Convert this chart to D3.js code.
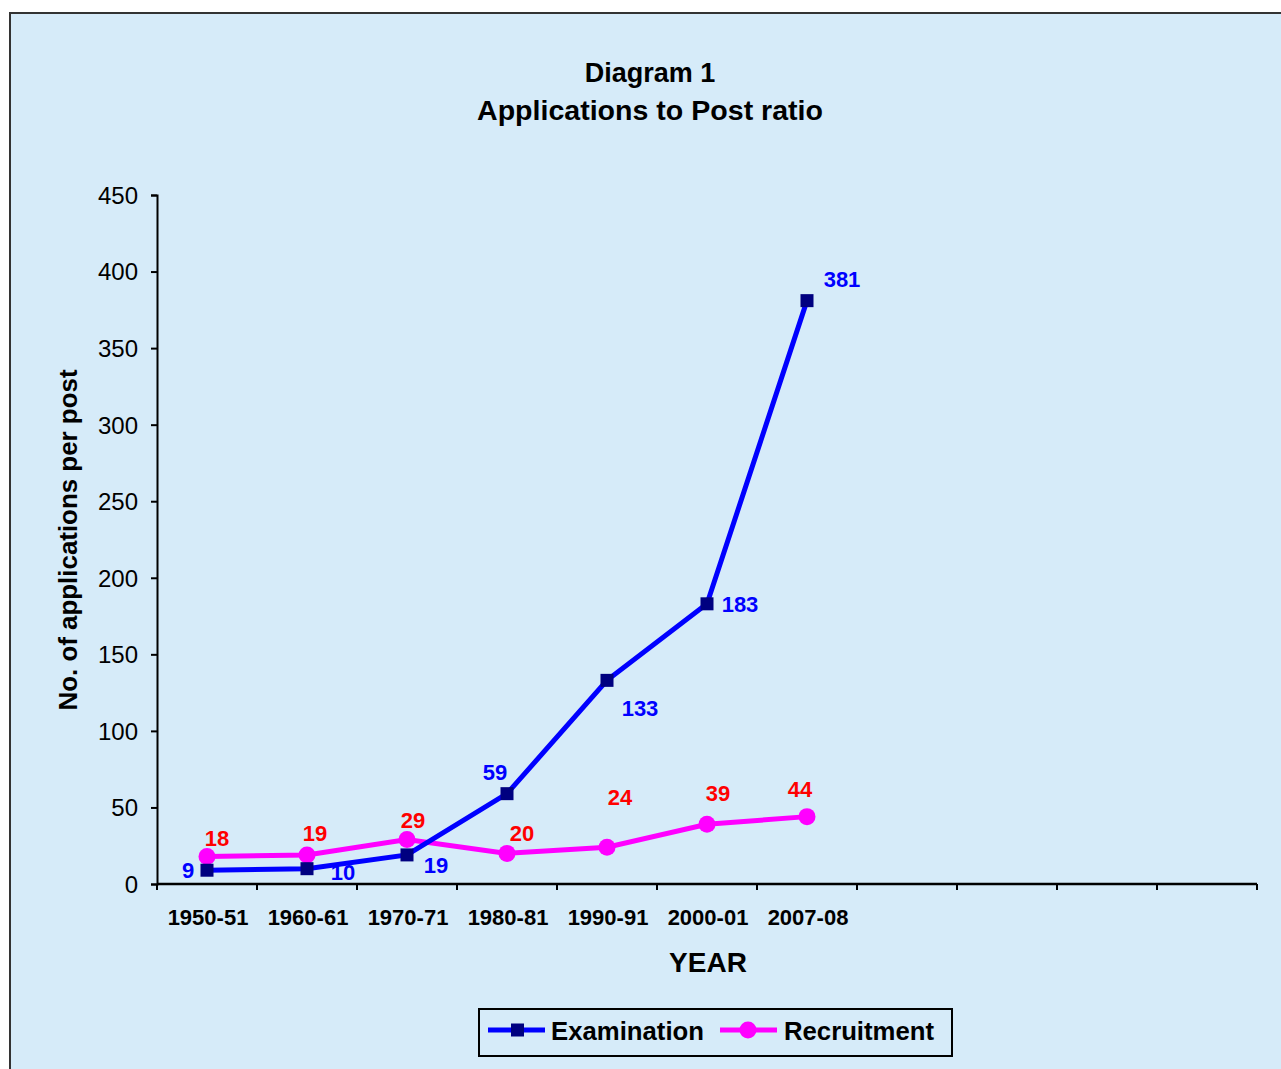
<!DOCTYPE html>
<html><head><meta charset="utf-8">
<script src="https://cdn.jsdelivr.net/npm/d3@7"></script>
<style>body{margin:0;background:#fff;}svg{display:block;font-family:Arial,"Liberation Sans",sans-serif;}</style>
</head><body>
<svg id="c" width="1281" height="1069"></svg>
<script>
const categories = ["1950-51","1960-61","1970-71","1980-81","1990-91","2000-01","2007-08"];
const slotCount = 11;
const examination = [9,10,19,59,133,183,381];
const recruitment = [18,19,29,20,24,39,44];
const yTicks = [0,50,100,150,200,250,300,350,400,450];
// label centre offsets (dx, dy from point), style only
const examOff = [[-19,0],[36,3],[29,10],[-12,-22],[33,28],[33,0],[35,-22]];
const recOff = [[10,-18],[8,-22],[6,-20],[15,-20],[13,-50],[11,-31],[-7,-28]];

const svg = d3.select("#c");
svg.append("rect").attr("x",10).attr("y",13).attr("width",1290).attr("height",1080)
  .attr("fill","#d6ebf9").attr("stroke","#333").attr("stroke-width",2);

const x0 = 157, x1 = 1257, yTop = 195, yBot = 884;
const slots = d3.range(slotCount);
const xBand = d3.scaleBand().domain(slots).range([x0,x1]).paddingInner(0).paddingOuter(0);
const y = d3.scaleLinear().domain([0,450]).range([yBot,yTop]);
const cx = i => xBand(i) + xBand.bandwidth()/2;

// Y axis
const yAxis = d3.axisLeft(y).tickValues(yTicks).tickSize(6).tickSizeOuter(6);
const gy = svg.append("g").attr("transform",`translate(${x0},0)`).call(yAxis);
gy.select(".domain").attr("stroke","#000").attr("stroke-width",2);
gy.selectAll(".tick line").attr("stroke","#000").attr("stroke-width",2);
gy.selectAll(".tick text").attr("font-size",24).attr("fill","#000").attr("x",-19).attr("dy","0.35em")
  .attr("font-family","Arial,'Liberation Sans',sans-serif");

// X axis
const xTickScale = d3.scaleLinear().domain([0,slotCount]).range([x0,x1]);
const gx = svg.append("g").attr("transform",`translate(0,${yBot})`);
gx.append("line").attr("x1",x0).attr("x2",x1).attr("y1",0).attr("y2",0).attr("stroke","#000").attr("stroke-width",2.5);
gx.selectAll("line.t").data(d3.range(slotCount+1)).join("line").attr("class","t")
  .attr("x1",d=>xTickScale(d)).attr("x2",d=>xTickScale(d)).attr("y1",0).attr("y2",6)
  .attr("stroke","#000").attr("stroke-width",2);
gx.selectAll("text").data(categories).join("text")
  .attr("x",(d,i)=>cx(i)+1).attr("y",41).attr("text-anchor","middle")
  .attr("font-size",22).attr("font-weight","bold").attr("fill","#000").text(d=>d);

// Titles
svg.append("text").attr("x",650).attr("y",82).attr("text-anchor","middle").attr("font-size",27).attr("font-weight","bold").text("Diagram 1");
svg.append("text").attr("x",650).attr("y",120).attr("text-anchor","middle").attr("font-size",27).attr("font-weight","bold")
  .attr("textLength",346).attr("lengthAdjust","spacingAndGlyphs").text("Applications to Post ratio");
svg.append("text").attr("x",708).attr("y",972).attr("text-anchor","middle").attr("font-size",28).attr("font-weight","bold").text("YEAR");
svg.append("text").attr("transform","translate(77,540) rotate(-90)").attr("text-anchor","middle").attr("font-size",25).attr("font-weight","bold")
  .attr("textLength",341).attr("lengthAdjust","spacingAndGlyphs").text("No. of applications per post");

// Labels (drawn under lines)
svg.selectAll("text.el").data(examination).join("text").attr("class","el")
  .attr("x",(d,i)=>cx(i)+examOff[i][0]).attr("y",(d,i)=>y(d)+examOff[i][1]).attr("dy","0.36em")
  .attr("text-anchor","middle").attr("font-size",22).attr("font-weight","bold").attr("fill","#0000ff").text(d=>d);
svg.selectAll("text.rl").data(recruitment).join("text").attr("class","rl")
  .attr("x",(d,i)=>cx(i)+recOff[i][0]).attr("y",(d,i)=>y(d)+recOff[i][1]).attr("dy","0.36em")
  .attr("text-anchor","middle").attr("font-size",22).attr("font-weight","bold").attr("fill","#ff0000").text(d=>d);

const line = d3.line().x((d,i)=>cx(i)).y(d=>y(d));
svg.append("path").datum(recruitment).attr("d",line).attr("fill","none").attr("stroke","#ff00ff").attr("stroke-width",5);
svg.append("path").datum(examination).attr("d",line).attr("fill","none").attr("stroke","#0000ff").attr("stroke-width",5);
svg.selectAll("circle.r").data(recruitment).join("circle").attr("class","r")
  .attr("cx",(d,i)=>cx(i)).attr("cy",d=>y(d)).attr("r",8.5).attr("fill","#ff00ff");
svg.selectAll("rect.e").data(examination).join("rect").attr("class","e")
  .attr("x",(d,i)=>cx(i)-6.5).attr("y",d=>y(d)-6.5).attr("width",13).attr("height",13).attr("fill","#000080");

// Legend
const lg = svg.append("g");
lg.append("rect").attr("x",479).attr("y",1009).attr("width",473).attr("height",47).attr("fill","none").attr("stroke","#000").attr("stroke-width",2);
lg.append("line").attr("x1",488).attr("x2",545).attr("y1",1030).attr("y2",1030).attr("stroke","#0000ff").attr("stroke-width",5);
lg.append("rect").attr("x",511).attr("y",1023.5).attr("width",13).attr("height",13).attr("fill","#000080");
lg.append("text").attr("x",551).attr("y",1040).attr("font-size",26).attr("font-weight","bold")
  .attr("textLength",153).attr("lengthAdjust","spacingAndGlyphs").text("Examination");
lg.append("line").attr("x1",720).attr("x2",777).attr("y1",1030).attr("y2",1030).attr("stroke","#ff00ff").attr("stroke-width",5);
lg.append("circle").attr("cx",748).attr("cy",1030).attr("r",8.5).attr("fill","#ff00ff");
lg.append("text").attr("x",784).attr("y",1040).attr("font-size",26).attr("font-weight","bold")
  .attr("textLength",150).attr("lengthAdjust","spacingAndGlyphs").text("Recruitment");
</script>
</body></html>
